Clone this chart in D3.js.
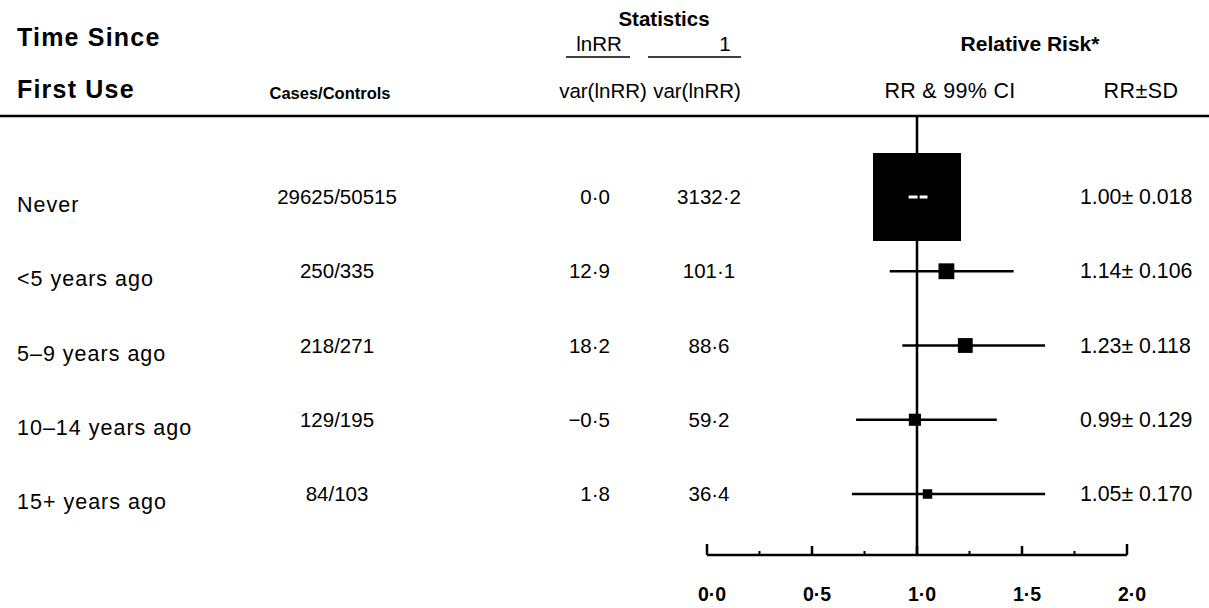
<!DOCTYPE html>
<html>
<head>
<meta charset="utf-8">
<script src="https://cdn.jsdelivr.net/npm/d3@7"></script>
<style>
html,body{margin:0;padding:0;background:#fff;}
svg{display:block;font-family:"Liberation Sans",Arial,Helvetica,sans-serif;}
</style>
</head>
<body>
<svg id="chart" width="1209" height="608"></svg>
<script>
// ---- data ----
const categories = ["Never", "<5 years ago", "5\u20139 years ago", "10\u201314 years ago", "15+ years ago"];
const casesControls = ["29625/50515", "250/335", "218/271", "129/195", "84/103"];
const lnRRoverVar = [0.0, 12.9, 18.2, -0.5, 1.8];
const invVar = [3132.2, 101.1, 88.6, 59.2, 36.4];
const rr = [1.00, 1.14, 1.23, 0.99, 1.05];
const sd = [0.018, 0.106, 0.118, 0.129, 0.170];
const ciLow = [0.96, 0.87, 0.93, 0.71, 0.69];
const ciHigh = [1.05, 1.46, 1.61, 1.38, 1.61];
const axisTicks = [0, 0.5, 1, 1.5, 2];
const minorTicks = [0.25, 0.75, 1.25, 1.75];

const fmtDot = v => (v < 0 ? "\u2212" : "") + Math.abs(v).toFixed(1).replace(".", "\u00B7");

const svg = d3.select("#chart");
const x = d3.scaleLinear().domain([0, 2]).range([707, 1127]);
const y = d3.scalePoint().domain(categories).range([197, 494]);
const boxSize = d3.scaleSqrt().domain([0, 3132.2]).range([0, 88]);

const headerY = 116, axisY = 555;

const t = (txt, xx, yy, opts = {}) => svg.append("text")
  .attr("x", xx).attr("y", yy)
  .attr("text-anchor", opts.anchor || "start")
  .attr("font-size", opts.size || 20)
  .attr("font-weight", opts.bold ? "bold" : "normal")
  .attr("letter-spacing", opts.ls || 0)
  .attr("fill", "#000")
  .text(txt);

t("Statistics", 664, 26, {anchor: "middle", size: 20.5, bold: true});
t("Time Since", 17, 46, {size: 25, bold: true, ls: 1.2});
t("First Use", 17, 98, {size: 25, bold: true, ls: 1.2});
t("Cases/Controls", 330, 99, {anchor: "middle", size: 16.5, bold: true});
t("lnRR", 599, 51, {anchor: "middle", size: 20.5});
t("var(lnRR)", 603, 98, {anchor: "middle", size: 20.5});
t("1", 725, 51, {anchor: "middle", size: 20.5});
t("var(lnRR)", 697, 98, {anchor: "middle", size: 20.5});
t("Relative Risk*", 1030, 51, {anchor: "middle", size: 21, bold: true});
t("RR & 99% CI", 950, 98, {anchor: "middle", size: 21.5, ls: 0.3});
t("RR\u00B1SD", 1141, 98, {anchor: "middle", size: 21.5, ls: 0.5});

// underlines
svg.append("line").attr("x1", 566).attr("x2", 630).attr("y1", 57).attr("y2", 57).attr("stroke", "#000").attr("stroke-width", 1.5);
svg.append("line").attr("x1", 648).attr("x2", 741).attr("y1", 57).attr("y2", 57).attr("stroke", "#000").attr("stroke-width", 1.5);

// header rule
svg.append("line").attr("x1", 0).attr("x2", 1209).attr("y1", headerY).attr("y2", headerY).attr("stroke", "#000").attr("stroke-width", 2.5);

// vertical reference line at RR = 1
svg.append("line").attr("x1", x(1)).attr("x2", x(1)).attr("y1", headerY).attr("y2", axisY)
  .attr("stroke", "#000").attr("stroke-width", 2.5);

// rows
const rows = svg.append("g").selectAll("g").data(categories).join("g");
rows.append("text").attr("x", 17).attr("y", d => y(d) + 15)
  .attr("font-size", 21.5).attr("letter-spacing", 1).text(d => d);
rows.append("text").attr("x", 337).attr("y", (d, i) => y(d) + 7).attr("text-anchor", "middle")
  .attr("font-size", 20.5).text((d, i) => casesControls[i]);
rows.append("text").attr("x", 610).attr("y", (d, i) => y(d) + 7).attr("text-anchor", "end")
  .attr("font-size", 20.5).text((d, i) => fmtDot(lnRRoverVar[i]));
rows.append("text").attr("x", 709).attr("y", (d, i) => y(d) + 7).attr("text-anchor", "middle")
  .attr("font-size", 20.5).text((d, i) => fmtDot(invVar[i]));
rows.append("text").attr("x", 1080).attr("y", (d, i) => y(d) + 7)
  .attr("font-size", 21.3).text((d, i) => rr[i].toFixed(2) + "\u00B1 " + sd[i].toFixed(3));

// CI lines
rows.append("line")
  .attr("x1", (d, i) => x(ciLow[i])).attr("x2", (d, i) => x(ciHigh[i]))
  .attr("y1", d => y(d)).attr("y2", d => y(d))
  .attr("stroke", "#000").attr("stroke-width", 2.5);
// boxes
rows.append("rect")
  .attr("x", (d, i) => x(rr[i]) - boxSize(invVar[i]) / 2)
  .attr("y", (d, i) => y(d) - boxSize(invVar[i]) / 2)
  .attr("width", (d, i) => boxSize(invVar[i]))
  .attr("height", (d, i) => boxSize(invVar[i]))
  .attr("fill", "#000");
// CI drawn in white inside the big box when it fits
rows.filter((d, i) => boxSize(invVar[i]) > (x(ciHigh[i]) - x(ciLow[i])))
  .append("line")
  .attr("x1", d => x(ciLow[categories.indexOf(d)]))
  .attr("x2", d => x(ciHigh[categories.indexOf(d)]))
  .attr("y1", d => y(d)).attr("y2", d => y(d))
  .attr("stroke", "#fff").attr("stroke-width", 3).attr("stroke-dasharray", "9,2");

// axis
const ax = svg.append("g");
ax.append("line").attr("x1", x(0)).attr("x2", x(2)).attr("y1", axisY).attr("y2", axisY)
  .attr("stroke", "#000").attr("stroke-width", 2.5);
ax.selectAll(".maj").data(axisTicks).join("line").attr("class", "maj")
  .attr("x1", d => x(d)).attr("x2", d => x(d))
  .attr("y1", axisY).attr("y2", d => axisY - ((d === 0 || d === 2) ? 11 : 9))
  .attr("stroke", "#000").attr("stroke-width", 2.5);
ax.selectAll(".min").data(minorTicks).join("line").attr("class", "min")
  .attr("x1", d => x(d)).attr("x2", d => x(d))
  .attr("y1", axisY).attr("y2", axisY - 4)
  .attr("stroke", "#000").attr("stroke-width", 2);
ax.selectAll(".lab").data(axisTicks).join("text").attr("class", "lab")
  .attr("x", d => x(d) + 5).attr("y", 601).attr("text-anchor", "middle")
  .attr("font-size", 19.5).attr("font-weight", "bold")
  .text(d => d.toFixed(1).replace(".", "\u00B7"));
</script>
</body>
</html>
